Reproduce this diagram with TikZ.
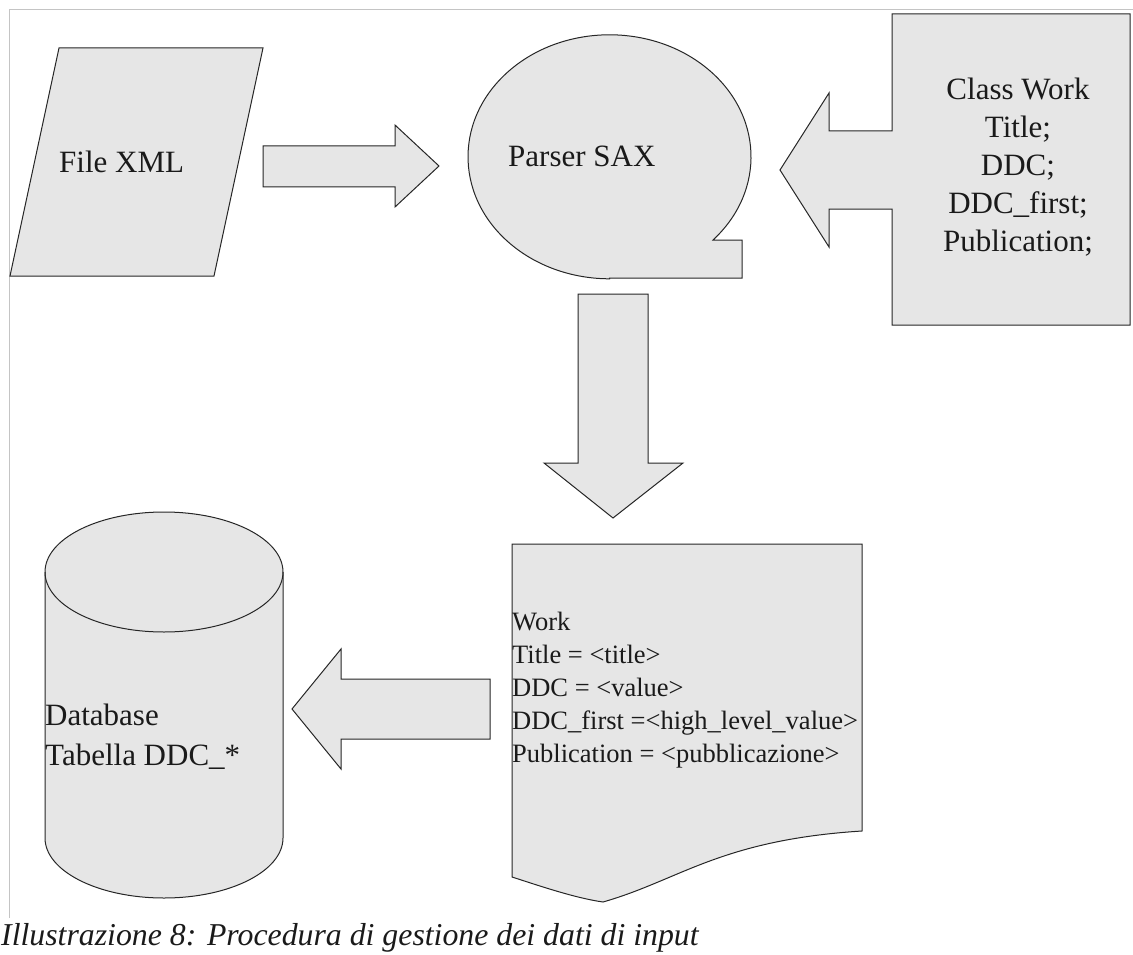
\documentclass[tikz,border=0pt]{standalone}
\usepackage{fontspec}
\setmainfont{Liberation Serif}
\definecolor{shapegray}{HTML}{E6E6E6}
\definecolor{framegray}{HTML}{C4C4C4}
\definecolor{inkgray}{HTML}{1A1A1A}
\tikzset{
  blk/.style={fill=shapegray, draw=black!85, line width=1pt, line join=miter},
  lbl/.style={inner sep=0pt, text=inkgray, font=\fontsize{31}{38}\selectfont},
  doc/.style={inner sep=0pt, text=inkgray, font=\fontsize{26.5}{33}\selectfont},
}
\begin{document}
\begin{tikzpicture}[x=1pt,y=-1pt]
\useasboundingbox (0,0) rectangle (1133,955);
\draw[framegray, line width=1pt] (9,918) -- (9,10) -- (1133,10);

% File XML (parallelogram)
\path[blk] (59,48) -- (263,48) -- (214,276) -- (10,276) -- cycle;
\node[lbl, anchor=base west] (fx) at (59,173) {File XML};

% block arrow right
\path[blk] (263,146) -- (395,146) -- (395,125) -- (439,166) -- (395,207) -- (395,187) -- (263,187) -- cycle;

% Parser SAX (round callout)
\path[blk] (609.5,278) -- (742,278) -- (742,240) -- (713,240)
  arc[start angle=43, end angle=-270, x radius=141.5, y radius=122] -- cycle;
\node[lbl, anchor=base west] (ps) at (508,167) {Parser SAX};

% Class Work (rectangle with left arrow callout)
\path[blk] (892,14) -- (1130,14) -- (1130,325) -- (892,325) -- (892,209) -- (829,209)
  -- (829,247) -- (780,170) -- (829,93) -- (829,131) -- (892,131) -- cycle;
\node[lbl, anchor=base] (cw) at (1018,100)
  {\begin{tabular}[t]{@{}c@{}}Class Work\\Title;\\DDC;\\DDC\_first;\\Publication;\end{tabular}};

% block arrow down
\path[blk] (578,294) -- (648,294) -- (648,463) -- (683,463) -- (613,518) -- (544,463) -- (578,463) -- cycle;

% document shape
\path[blk] (512,544) -- (862,544) -- (862,831)
  .. controls (720,840) and (680,880) .. (603,902)
  .. controls (575,898) and (540,886) .. (512,877) -- cycle;
\node[doc, anchor=base west] (wk) at (512,630)
  {\begin{tabular}[t]{@{}l@{}}Work\\Title = <title>\\DDC = <value>\\DDC\_first =<high\_level\_value>\\Publication = <pubblicazione>\end{tabular}};

% block arrow left
\path[blk] (490,679) -- (490,739) -- (341,739) -- (341,769) -- (292,709) -- (341,649) -- (341,679) -- cycle;

% database cylinder
\path[blk] (45,572) -- (45,838) arc[start angle=180, end angle=0, x radius=119, y radius=60]
  -- (283,572) arc[start angle=0, end angle=-180, x radius=119, y radius=60] -- cycle;
\draw[black!85, line width=1pt] (45,572) arc[start angle=180, end angle=0, x radius=119, y radius=60];
\node[lbl, anchor=base west, font=\fontsize{31}{40}\selectfont] (db) at (45,725)
  {\begin{tabular}[t]{@{}l@{}}Database\\Tabella DDC\_*\end{tabular}};

% caption
\node[inner sep=0pt, text=inkgray, anchor=base west, font=\fontsize{31.8}{38}\selectfont\itshape] (cap) at (1,945)
  {Illustrazione 8: Procedura di gestione dei dati di input};
\end{tikzpicture}
\end{document}
